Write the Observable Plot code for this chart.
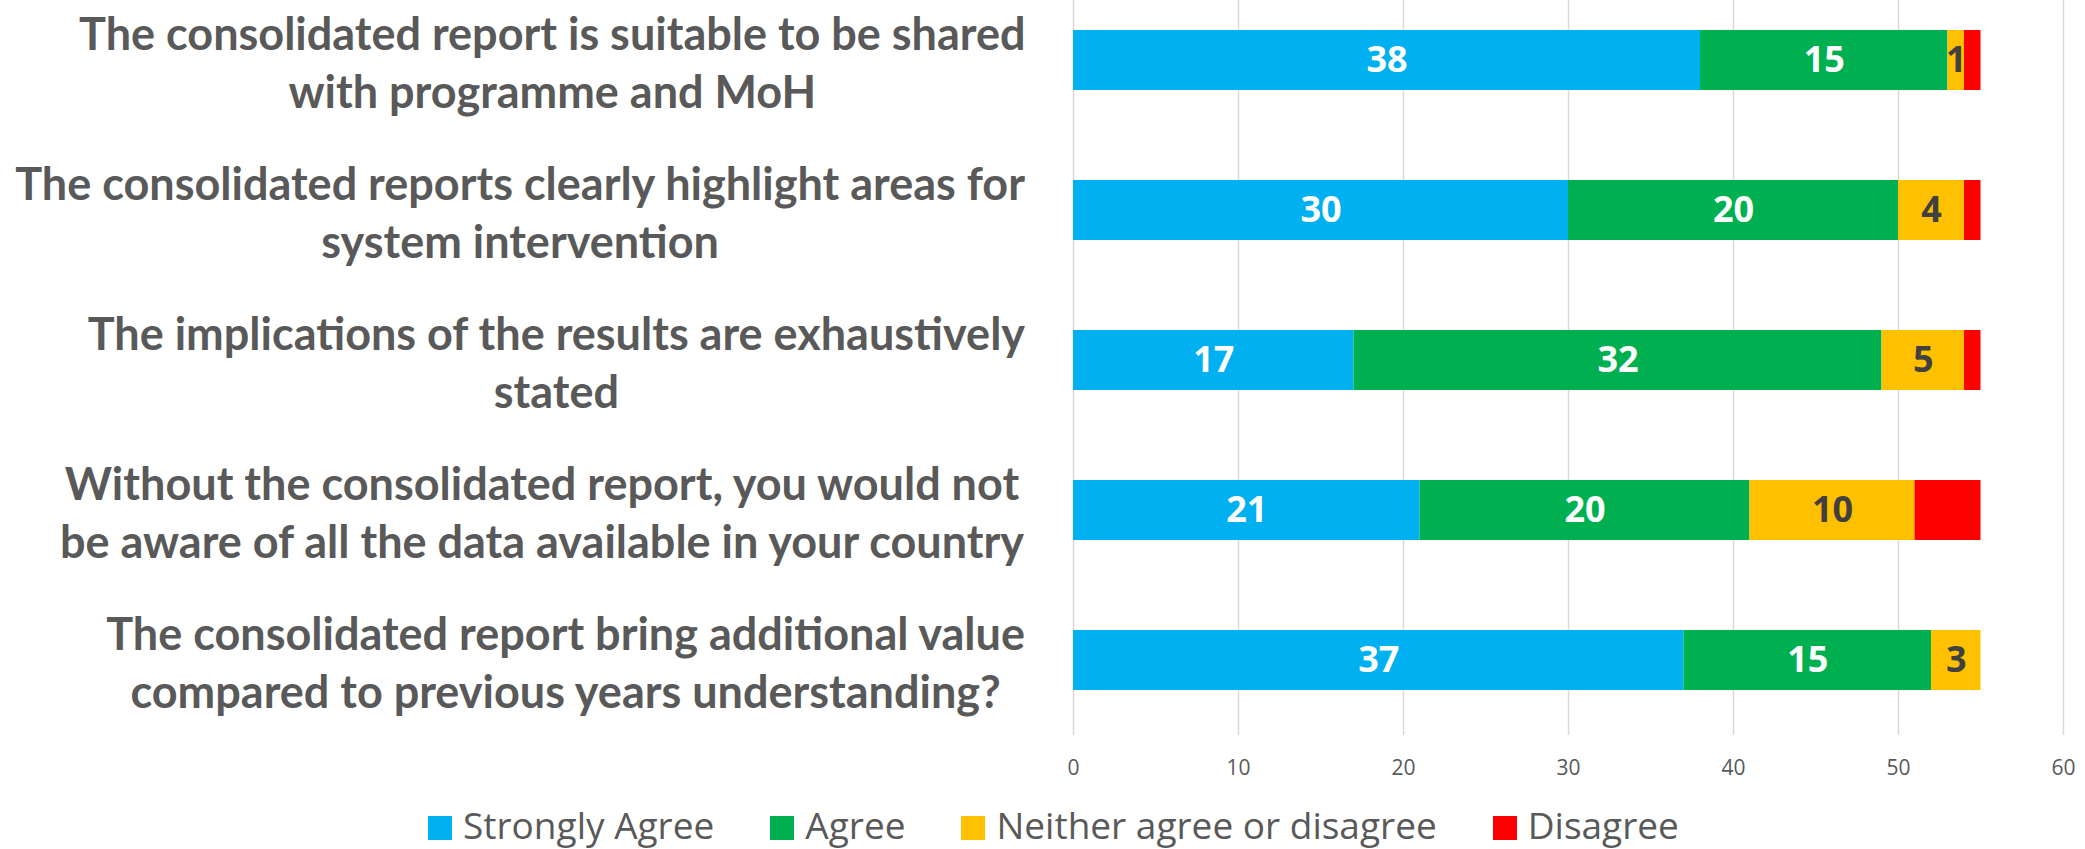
<!DOCTYPE html>
<html>
<head>
<meta charset="utf-8">
<script src="https://cdn.jsdelivr.net/npm/d3@7"></script>
<script src="https://cdn.jsdelivr.net/npm/@observablehq/plot@0.6"></script>
<style>
  html, body { margin: 0; padding: 0; background: #fff; }
  #chart { width: 2085px; }
  #legend { position: relative; height: 49px; display: flex; align-items: center; padding-left: 428px;
            font-family: "Open Sans", sans-serif; font-size: 37px; color: #595959; white-space: nowrap; }
  .item { display: flex; align-items: center; margin-right: 56px; }
  .sw { width: 24px; height: 24px; margin-right: 11px; margin-top: 6px; }
</style>
</head>
<body>
<div id="chart"></div>
<div id="legend"></div>
<script>
const categories = [
  "The consolidated report is suitable to be shared\nwith programme and MoH",
  "The consolidated reports clearly highlight areas for\nsystem intervention",
  "The implications of the results are exhaustively\nstated",
  "Without the consolidated report, you would not\nbe aware of all the data available in your country",
  "The consolidated report bring additional value\ncompared to previous years understanding?"
];
const seriesNames = ["Strongly Agree", "Agree", "Neither agree or disagree", "Disagree"];
const seriesColors = ["#00B0F0", "#00B050", "#FFC000", "#FF0000"];
const strongly = [38, 30, 17, 21, 37];
const agree    = [15, 20, 32, 20, 15];
const neither  = [1, 4, 5, 10, 3];
const disagree = [1, 1, 1, 4, 0];
const xTicks = [0, 10, 20, 30, 40, 50, 60];

const seriesValues = [strongly, agree, neither, disagree];
const data = [];
categories.forEach((c, i) => {
  seriesValues.forEach((vals, s) => {
    data.push({category: c, series: seriesNames[s], value: vals[i], showLabel: s < 3 && vals[i] > 0});
  });
});

const W = 2085, H = 800;
const ML = 1073;
const LABEL_GAP = 48;
const LABEL_FONT = "bold 45px Lato";

// measure each label block so its lines can be centred on one another while the block is right-aligned
const ctx = document.createElement("canvas").getContext("2d");
ctx.font = LABEL_FONT;
const blockWidth = c => Math.max(...c.split("\n").map(l => ctx.measureText(l).width));

const labelMarks = categories.map(c => Plot.text([c], {
  y: d => d, text: d => d, frameAnchor: "left", textAnchor: "middle",
  dx: -LABEL_GAP - blockWidth(c) / 2,
  fontFamily: "Lato", fontWeight: "bold", fontSize: 45, fill: "#595959", lineHeight: 1.29
}));

const chart = Plot.plot({
  width: W,
  height: H,
  marginLeft: ML,
  marginRight: 22,
  marginTop: 0,
  marginBottom: 65,
  style: {background: "#fff", overflow: "visible"},
  x: {domain: [0, 60], ticks: xTicks, label: null},
  y: {domain: categories, range: [-16, 735], paddingInner: 0.6, paddingOuter: 0.3, label: null, axis: null},
  color: {domain: seriesNames, range: seriesColors},
  marks: [
    Plot.ruleX(xTicks, {stroke: "#d9d9d9", strokeWidth: 1.5}),
    Plot.barX(data, Plot.stackX({x: "value", y: "category", fill: "series", order: seriesNames})),
    Plot.text(data, Plot.stackX({
      filter: d => d.showLabel,
      x: "value", y: "category", order: seriesNames,
      text: d => String(d.value),
      fill: d => d.series === "Neither agree or disagree" ? "#404040" : "#ffffff",
      fontFamily: "Open Sans", fontWeight: "bold", fontSize: 36
    })),
    ...labelMarks,
    Plot.axisX({ticks: xTicks, tickSize: 0, tickPadding: 25, fontSize: 21, fontFamily: "Open Sans", color: "#595959", label: null})
  ]
});
document.getElementById("chart").appendChild(chart);

const legend = document.getElementById("legend");
seriesNames.forEach((n, i) => {
  const it = document.createElement("div");
  it.className = "item";
  const sw = document.createElement("div");
  sw.className = "sw";
  sw.style.background = seriesColors[i];
  const t = document.createElement("span");
  t.textContent = n;
  it.appendChild(sw); it.appendChild(t);
  legend.appendChild(it);
});
</script>
</body>
</html>
